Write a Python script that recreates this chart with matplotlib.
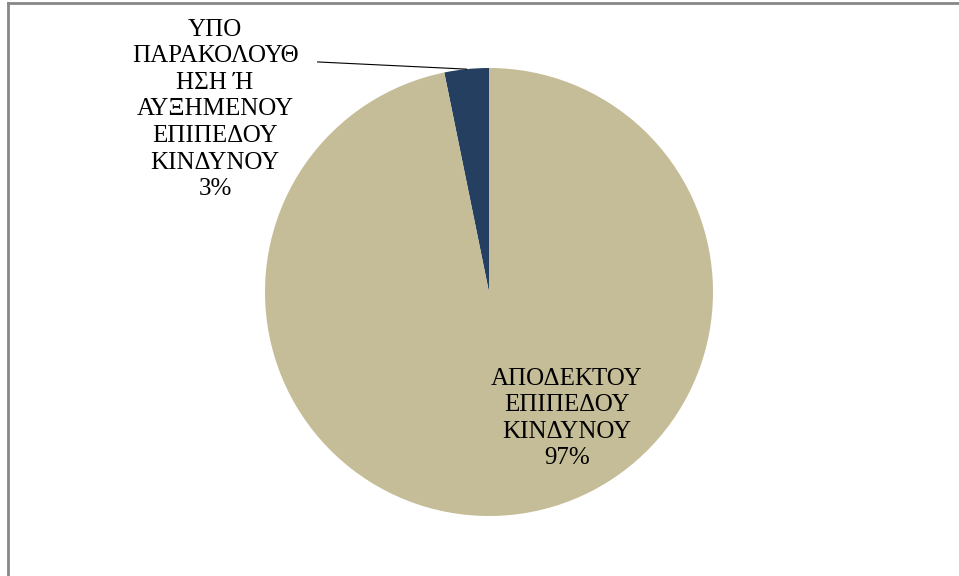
import numpy as np
import matplotlib.pyplot as plt
from matplotlib.lines import Line2D

plt.rcParams['font.family'] = ['Liberation Serif', 'DejaVu Serif']

# data
labels = ["ΥΠΟ\nΠΑΡΑΚΟΛΟΥΘ\nΗΣΗ Ή\nΑΥΞΗΜΕΝΟΥ\nΕΠΙΠΕΔΟΥ\nΚΙΝΔΥΝΟΥ",
          "ΑΠΟΔΕΚΤΟΥ\nΕΠΙΠΕΔΟΥ\nΚΙΝΔΥΝΟΥ"]
values = [3.2, 96.8]
colors = ['#253F60', '#C4BD97']

fig = plt.figure(figsize=(9.59, 5.76), dpi=100)
ax = fig.add_axes([0, 0, 1, 1])

wedges, _ = ax.pie(values, colors=colors, startangle=90, counterclock=True,
                   radius=1, center=(0, 0), frame=True,
                   wedgeprops=dict(linewidth=0))
ax.set_xlim(-489 / 224, (959 - 489) / 224)
ax.set_ylim((292 - 576) / 224, 292 / 224)
ax.set_aspect('auto')
ax.axis('off')

total = sum(values)
pct = [f"{round(v / total * 100)}%" for v in values]

# small slice label, outside with leader line
ax.text(-1.223, 0.815, labels[0] + "\n" + pct[0], ha='center', va='center',
        fontsize=18, linespacing=1.27)
w = wedges[0]
mid = np.deg2rad((w.theta1 + w.theta2) / 2)
ax.plot([-0.765, np.cos(mid)], [1.027, np.sin(mid)], color='black', lw=0.8)

# large slice label inside
ax.text(0.348, -0.565, labels[1] + "\n" + pct[1], ha='center', va='center',
        fontsize=18, linespacing=1.27)

# chart border
fig.add_artist(Line2D([8 / 959, 8 / 959], [0, 1 - 3 / 576], color='#878787', lw=2,
                      transform=fig.transFigure))
fig.add_artist(Line2D([8 / 959, 1], [1 - 3 / 576, 1 - 3 / 576], color='#878787', lw=2,
                      transform=fig.transFigure))

fig.savefig("out.png", dpi=100)
